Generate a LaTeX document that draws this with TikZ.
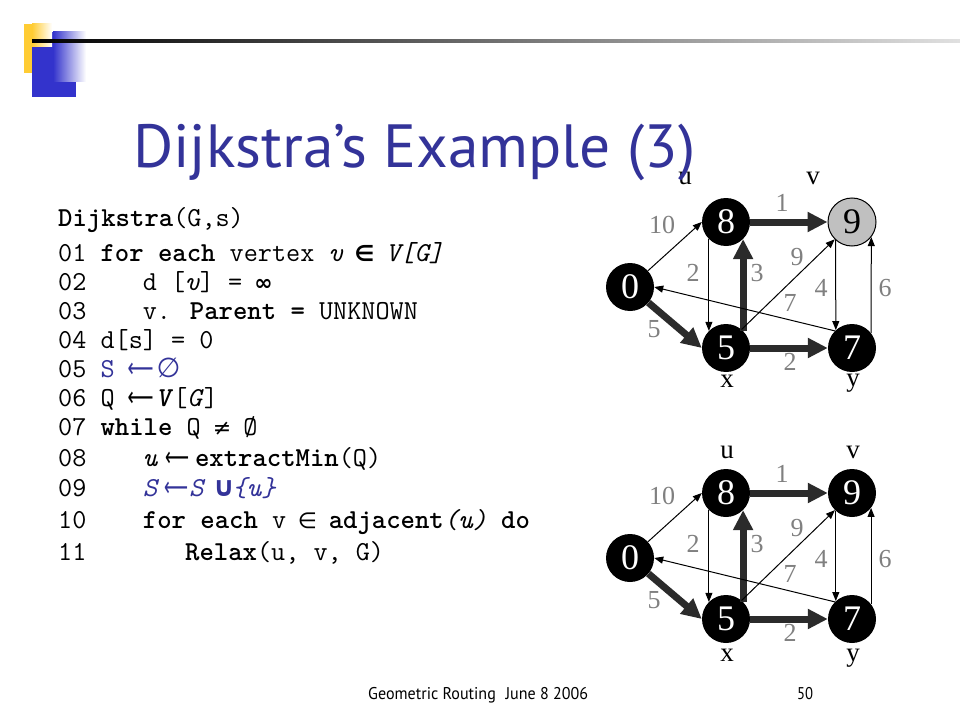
\documentclass[tikz,border=0pt]{standalone}
\usepackage{fontspec}
\usepackage{graphicx}
\usetikzlibrary{arrows.meta}
\setmainfont{Liberation Serif}
\newfontfamily\symfont{DejaVu Sans}
\newfontfamily\titlefont{PT Sans}
\definecolor{titleblue}{HTML}{333399}
\definecolor{edgegray}{HTML}{808080}
\definecolor{thickgray}{HTML}{2B2B2B}
\definecolor{logoblue}{HTML}{3333CC}
\definecolor{logoyellow}{HTML}{FFCC33}
\definecolor{nodegray}{HTML}{C0C0C0}
\definecolor{codeblue}{HTML}{333399}
\newlength\cw \setlength\cw{14.4bp}
\newcommand\mc[1]{\makebox[\cw]{\symfont\fontsize{22bp}{29bp}\selectfont #1}}
\newcommand\arrbox[1]{\resizebox{#1}{\height}{\symfont\mdseries\upshape ⟵}}

\tikzset{
  vtx/.style={circle, fill=black, minimum size=48bp, inner sep=0pt, text=white,
    font=\fontsize{36bp}{36bp}\selectfont},
  vtxgray/.style={vtx, fill=nodegray, draw=black, line width=1bp, text=black},
  wlab/.style={text=edgegray, inner sep=0pt, font=\fontsize{26bp}{26bp}\selectfont},
  nlab/.style={inner sep=0pt, font=\fontsize{27bp}{27bp}\selectfont},
  thinarr/.style={line width=1bp, draw=black, -{Triangle[length=9bp,width=7bp]}},
  thickarr/.style={line width=7bp, draw=thickgray, -{Triangle[length=20bp,width=19bp]}},
  codeline/.style={anchor=base west, inner sep=0pt,
    font=\ttfamily\fontsize{27.4bp}{29bp}\selectfont},
}

\newcommand\drawgraph[8]{%
\begin{scope}[shift={(0,#2)}]
  \node[vtx] (#1s) at (630,287) {0};
  \node[vtx] (#1u) at (726,222) {8};
  \node[#3] (#1v) at (852,222) {9};
  \node[vtx] (#1x) at (726,348) {5};
  \node[vtx] (#1y) at (852,348) {7};
  \draw[thinarr] (#1s) -- (#1u.west);
  \draw[thickarr] (#1s) -- (#1x.west);
  \draw[thinarr] (#1u.225) -- (#1x.135);
  \draw[thickarr] (#1x.45) -- (#1u.-45);
  \draw[thickarr] (#1u) -- (#1v);
  \draw[thickarr] (#1x) -- (#1y);
  \draw[thinarr] (#1x.50) -- (#1v.225);
  \draw[thinarr] (#1v.228) -- (#1y.132);
  \draw[thinarr] (#1y.38) -- (#1v.-38);
  \draw[thinarr] (#1y.135) -- (#1s.east);
  \node[wlab] (#1w10) at (662,225) {10};
  \node[wlab] (#1w1) at (782,203) {1};
  \node[wlab] (#1w2a) at (693,273) {2};
  \node[wlab] (#1w3) at (757,273) {3};
  \node[wlab] (#1w9) at (797,257) {9};
  \node[wlab] (#1w4) at (821,288) {4};
  \node[wlab] (#1w6) at (885,288) {6};
  \node[wlab] (#1w7) at (790,303) {7};
  \node[wlab] (#1w5) at (654,329) {5};
  \node[wlab] (#1w2b) at (790,362) {2};
  \node[nlab] (#1lu) at (#4,#6) {u};
  \node[nlab] (#1lv) at (#5,#6) {v};
  \node[nlab] (#1lx) at (727,#7) {x};
  \node[nlab] (#1ly) at (853,#8) {y};
\end{scope}}

\begin{document}
\begin{tikzpicture}[x=1bp, y=-1bp]
\useasboundingbox (0,0) rectangle (960,720);
\fill[white] (0,0) rectangle (960,720);

% logo
\fill[logoblue] (32,82) rectangle (76,97);
\fill[logoblue] (32,32) rectangle (53,82);
\shade[left color=logoblue, right color=white] (53,32) rectangle (86,82);
\fill[logoyellow] (24,24) rectangle (32,73);
\shade[left color=logoyellow, right color=white] (32,24) rectangle (52,47);
\shade[left color=black, right color=black!12] (32,39.7) rectangle (960,42.7);

% code
\node[codeline] (c0) at (58,226) {\bfseries Dijkstra\mdseries(G,s)};
\node[codeline] (c1) at (58,261.5) {01 \textbf{for each} vertex \textit{v} \mc{\bfseries ∈} \textit{V[G]}};
\node[codeline] (c2) at (58,290.5) {02~~~~d [\textit{v}] = \mc{\bfseries ∞}};
\node[codeline] (c3) at (58,319) {03~~~~v. \textbf{Parent =} UNKNOWN};
\node[codeline] (c4) at (58,348.5) {04 d[s] = 0};
\node[codeline] (c5) at (58,377) {05 {\color{codeblue}S\hspace{13bp}\arrbox{26bp}\hspace{3bp}{\symfont ∅}}};
\node[codeline] (c6) at (58,406) {06 Q\hspace{13bp}\arrbox{26bp}\hspace{3bp}\textbf{\textit{V}}[\textit{G}]};
\node[codeline] (c7) at (58,435) {07 \textbf{while} Q \mc{≠} Ø};
\node[codeline] (c8) at (58,466.5) {08~~~~\textit{u}\hspace{7bp}\arrbox{24bp}\hspace{6bp}\textbf{extractMin}(Q)};
\node[codeline] (c9) at (58,496.5) {09~~~~{\color{codeblue}\itshape S\hspace{7bp}\arrbox{24bp}\hspace{1bp}S\hspace{12bp}\makebox[17bp]{\symfont\upshape\bfseries ∪}\{u\}}};
\node[codeline] (c10) at (58,528) {10~~~~\textbf{for each} v \mc{∈} \textbf{adjacent}\textit{(u)} \textbf{do}};
\node[codeline] (c11) at (58,560) {11~~~~~~~\textbf{Relax}(u, v, G)};

% graphs
\drawgraph{a}{0}{vtxgray}{685}{813}{178}{381}{383}
\drawgraph{b}{271}{vtx}{727}{853}{181}{384}{387}

% title
\node[anchor=base west, inner sep=0pt, text=titleblue,
  font=\titlefont\fontsize{61bp}{61bp}\selectfont] (title) at (133,168)
  {\resizebox{562bp}{\height}{Dijkstra’s Example (3)}};

% footer
\node[anchor=base west, inner sep=0pt, font=\titlefont\fontsize{17bp}{17bp}\selectfont]
  (foot) at (368,699) {\resizebox{220bp}{\height}{Geometric Routing\hspace{0.6em}June 8 2006}};
\node[anchor=base west, inner sep=0pt, font=\titlefont\fontsize{17bp}{17bp}\selectfont]
  (page) at (797,699) {\resizebox{16bp}{\height}{50}};
\end{tikzpicture}
\end{document}
